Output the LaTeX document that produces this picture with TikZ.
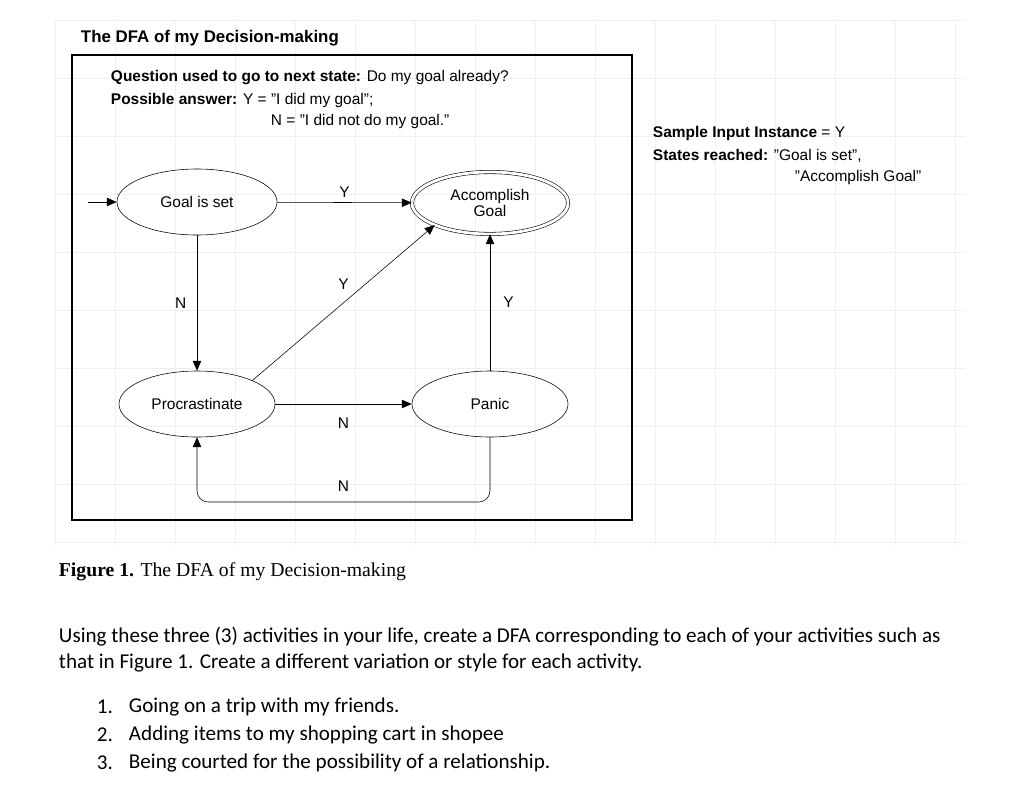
\documentclass[tikz,border=0pt]{standalone}
\usepackage{fontspec}
\setmainfont{Liberation Sans}
\newfontfamily\serifcap{Liberation Serif}
\newfontfamily\bodyfont{Carlito}
\usetikzlibrary{arrows.meta,positioning,shapes.geometric}

\tikzset{
  state/.style={draw, ellipse, minimum width=4cm, minimum height=1.65cm, inner sep=0pt, align=center, font=\fontsize{11}{12}\selectfont},
  accept/.style={state, double, double distance=2pt},
  edge/.style={draw, -{Triangle[length=7pt,width=6pt]}},
  lbl/.style={font=\fontsize{11}{12}\selectfont},
}

\begin{document}
\begin{tikzpicture}[x=0.025cm, y=-0.025cm]
  \useasboundingbox (0,0) rectangle (1024,802);
  % faint grid behind the diagram
  \foreach \gx in {55,115,...,965} \draw[gray!12] (\gx,20) -- (\gx,545);
  \foreach \gy in {20,78,...,545} \draw[gray!12] (55,\gy) -- (965,\gy);

  \node[anchor=west, font=\bfseries\fontsize{12}{14}\selectfont] (title) at (76,38) {The DFA of my Decision-making};
  \draw[thick] (72,55) rectangle (632,520);

  \node[anchor=west, font=\fontsize{11}{12}\selectfont] (q) at (106,78) {\textbf{Question used to go to next state:} Do my goal already?};
  \node[anchor=west, font=\fontsize{11}{12}\selectfont] (pa) at (106,100) {\textbf{Possible answer:} Y = "I did my goal";};
  \node[anchor=west, font=\fontsize{11}{12}\selectfont] (pn) at (266,121) {N = "I did not do my goal."};

  % states
  \node[state] (goal) at (197,202) {Goal is set};
  \node[accept, minimum width=3.9cm, minimum height=1.55cm] (acc) at (490,203) {Accomplish\\Goal};
  \node[state, minimum width=3.9cm] (pro) at (197,404) {Procrastinate};
  \node[state, minimum width=3.9cm] (pan) at (490,404) {Panic};
  \coordinate (start) at (88,202);

  % transitions
  \draw[edge] (start) -- (goal);
  \draw[edge] (goal) -- node[lbl, above] {Y} (acc);
  \draw[edge] (goal) -- node[lbl, left, xshift=-4pt] {N} (pro);
  \draw[edge] (pro.north east) -- node[lbl, above, yshift=6pt] {Y} (acc.south west);
  \draw[edge] (pan) -- node[lbl, right, xshift=6pt] {Y} (acc);
  \draw[edge] (pro) -- node[lbl, below, yshift=-6pt] {N} (pan);
  \draw[edge, rounded corners=8pt] (pan.south) -- (490,502) -- node[lbl, above, yshift=4pt] {N} (197,502) -- (pro.south);

  % sample input
  \node[anchor=west, font=\fontsize{11}{12}\selectfont] (si) at (648,133) {\textbf{Sample Input Instance} = Y};
  \node[anchor=west, font=\fontsize{11}{12}\selectfont] (sr) at (648,156) {\textbf{States reached:} "Goal is set",};
  \node[anchor=west, font=\fontsize{11}{12}\selectfont] (sr2) at (790,177) {"Accomplish Goal"};

  % caption and task text
  \node[anchor=west, font=\serifcap\fontsize{14}{16}\selectfont] (cap) at (54,572) {\textbf{Figure 1.} The DFA of my Decision-making};
  \node[anchor=north west, align=left, font=\bodyfont\fontsize{15}{18.5}\selectfont] (task) at (54,622)
    {Using these three (3) activities in your life, create a DFA corresponding to each of your activities such as\\that in Figure 1. Create a different variation or style for each activity.};
  \foreach \i/\t [count=\k] in {1/Going on a trip with my friends.,2/Adding items to my shopping cart in shopee,3/Being courted for the possibility of a relationship.} {
    \node[anchor=west, font=\bodyfont\fontsize{15}{18}\selectfont] (num\k) at (92,679+28*\k) {\i.};
    \node[anchor=west, font=\bodyfont\fontsize{15}{18}\selectfont] (item\k) at (124,679+28*\k) {\t};
  }
\end{tikzpicture}
\end{document}
